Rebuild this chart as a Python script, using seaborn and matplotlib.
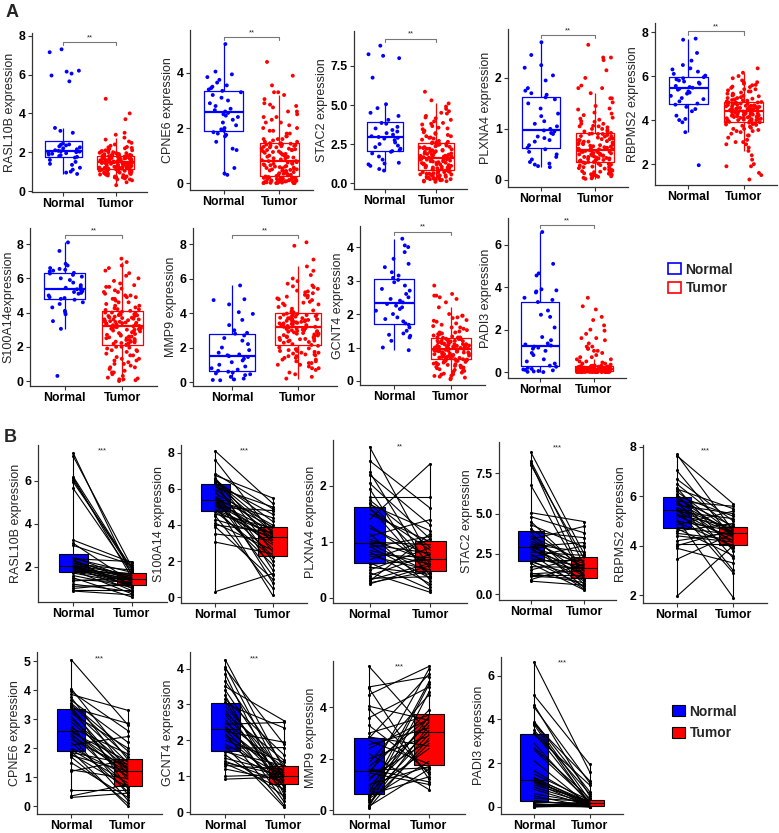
import matplotlib
matplotlib.use("Agg")
import matplotlib.pyplot as plt
from matplotlib.patches import Patch
from matplotlib.ticker import FormatStrFormatter
import seaborn as sns
import pandas as pd

# values estimated from the published figure
# normal samples (paired, also shown in panel A), paired tumour samples, other tumour samples
rasl10b_normal = [7.3, 7.15, 6.2, 6.15, 6.05, 5.95, 5.65, 3.25, 3.1, 3.0, 2.45, 2.4, 2.38, 2.35, 2.3, 2.25, 2.2, 2.15, 2.1, 2.07,
                  2.05, 2.03, 2.0, 1.98, 1.95, 1.92, 1.88, 1.85, 1.8, 1.76, 1.72, 1.6, 1.5, 1.4, 1.35, 1.2, 1.1, 1.0, 0.95, 0.88]
rasl10b_tumor = [1.6, 2.0, 1.9, 1.5, 1.8, 1.95, 1.7, 2.2, 1.3, 2.1, 1.45, 1.75, 2.25, 1.0, 1.4, 1.55, 1.2, 1.85, 1.1, 1.65,
                 1.35, 0.9, 1.5, 1.25, 1.6, 1.15, 1.45, 0.75, 1.7, 1.4, 1.2, 1.05, 0.6, 1.3, 1.5, 0.85, 1.15, 1.25, 0.95, 0.7]
rasl10b_tumor_other = [0.3, 0.45, 0.55, 0.6, 0.65, 0.7, 0.72, 0.75, 0.8, 0.82, 0.85, 0.88, 0.9, 0.92, 0.95, 0.97, 1.0, 1.02, 1.04, 1.05,
                       1.07, 1.08, 1.1, 1.11, 1.12, 1.14, 1.15, 1.17, 1.18, 1.2, 1.21, 1.23, 1.25, 1.26, 1.28, 1.3, 1.31, 1.33, 1.35, 1.36,
                       1.38, 1.4, 1.41, 1.42, 1.44, 1.45, 1.46, 1.47, 1.48, 1.49, 1.5, 1.52, 1.53, 1.55, 1.56, 1.58, 1.6, 1.61, 1.62, 1.64,
                       1.65, 1.67, 1.68, 1.7, 1.71, 1.72, 1.74, 1.75, 1.77, 1.78, 1.8, 1.81, 1.82, 1.83, 1.84, 1.86, 1.88, 1.9, 1.92, 1.95,
                       1.97, 2.0, 2.03, 2.06, 2.1, 2.14, 2.18, 2.22, 2.27, 2.33, 2.4, 2.48, 2.55, 2.65, 2.75, 2.9, 3.0, 3.7, 4.0, 4.75]

cpne6_normal = [5.05, 4.05, 3.95, 3.85, 3.75, 3.65, 3.55, 3.5, 3.45, 3.4, 3.35, 3.3, 3.2, 3.1, 3.0, 2.9, 2.8, 2.7, 2.65, 2.6,
                2.55, 2.5, 2.45, 2.4, 2.3, 2.2, 2.1, 2.0, 1.95, 1.9, 1.85, 1.8, 1.75, 1.7, 1.5, 1.25, 1.2, 0.55, 0.35, 0.3]
cpne6_tumor = [2.8, 1.6, 2.6, 3.3, 1.2, 2.2, 1.9, 1.7, 0.6, 2.85, 1.5, 1.1, 2.0, 0.9, 1.4, 1.3, 0.4, 1.8, 1.0, 1.25,
               1.55, 0.7, 1.15, 0.2, 1.35, 0.5, 2.4, 1.05, 0.8, 0.0, 1.45, 0.65, 1.2, 0.1, 0.3, 0.95, 1.6, 0.55, 0.75, 0.45]
cpne6_tumor_other = [0.0, 0.0, 0.0, 0.01, 0.01, 0.02, 0.02, 0.03, 0.03, 0.04, 0.05, 0.05, 0.06, 0.07, 0.08, 0.08, 0.09, 0.1, 0.1, 0.11,
                     0.12, 0.13, 0.14, 0.15, 0.15, 0.16, 0.17, 0.18, 0.19, 0.2, 0.22, 0.24, 0.26, 0.28, 0.3, 0.32, 0.34, 0.36, 0.38, 0.4,
                     0.42, 0.44, 0.46, 0.48, 0.5, 0.52, 0.54, 0.56, 0.58, 0.6, 0.62, 0.65, 0.68, 0.7, 0.73, 0.76, 0.8, 0.83, 0.86, 0.9,
                     0.93, 0.96, 1.0, 1.03, 1.06, 1.1, 1.13, 1.16, 1.2, 1.23, 1.26, 1.3, 1.32, 1.34, 1.36, 1.38, 1.4, 1.42, 1.43, 1.45,
                     1.5, 1.6, 1.7, 1.8, 1.9, 2.0, 2.1, 2.2, 2.3, 2.4, 2.5, 2.6, 2.75, 2.9, 3.05, 3.2, 3.3, 3.55, 3.9, 4.4]

stac2_normal = [8.8, 8.25, 8.15, 8.0, 6.75, 5.05, 4.8, 4.5, 4.3, 4.05, 3.85, 3.8, 3.6, 3.5, 3.4, 3.3, 3.2, 3.1, 3.0, 2.95,
                2.9, 2.85, 2.75, 2.6, 2.5, 2.4, 2.3, 2.2, 2.1, 2.05, 2.0, 1.9, 1.7, 1.5, 1.3, 1.25, 1.2, 1.1, 0.9, 0.8]
stac2_tumor = [2.5, 1.8, 0.9, 2.2, 1.0, 4.5, 3.8, 1.4, 2.9, 1.6, 3.5, 0.6, 2.0, 1.2, 4.2, 1.7, 0.4, 2.6, 1.1, 3.2,
               1.9, 0.8, 1.5, 2.4, 0.3, 1.3, 3.0, 1.75, 0.5, 2.1, 1.0, 0.25, 1.65, 2.3, 0.7, 1.45, 1.2, 0.95, 1.85, 0.55]
stac2_tumor_other = [0.08, 0.1, 0.12, 0.15, 0.18, 0.2, 0.22, 0.25, 0.28, 0.3, 0.33, 0.36, 0.4, 0.42, 0.45, 0.48, 0.5, 0.53, 0.56, 0.6,
                     0.63, 0.66, 0.7, 0.72, 0.75, 0.8, 0.83, 0.86, 0.9, 0.93, 0.97, 1.0, 1.04, 1.08, 1.12, 1.15, 1.2, 1.24, 1.28, 1.3,
                     1.34, 1.38, 1.4, 1.44, 1.47, 1.5, 1.53, 1.55, 1.57, 1.59, 1.62, 1.66, 1.7, 1.74, 1.78, 1.82, 1.86, 1.9, 1.95, 2.0,
                     2.04, 2.08, 2.12, 2.16, 2.2, 2.24, 2.28, 2.32, 2.36, 2.4, 2.45, 2.5, 2.55, 2.6, 2.64, 2.7, 2.78, 2.85, 2.92, 3.0,
                     3.08, 3.15, 3.25, 3.35, 3.45, 3.55, 3.65, 3.75, 3.85, 3.95, 4.05, 4.15, 4.3, 4.45, 4.6, 4.75, 4.9, 5.1, 5.3, 5.85]

plxna4_normal = [2.7, 2.45, 2.25, 2.2, 2.05, 1.95, 1.8, 1.75, 1.7, 1.67, 1.62, 1.58, 1.5, 1.4, 1.3, 1.25, 1.15, 1.1, 1.05, 1.0,
                 0.97, 0.95, 0.92, 0.9, 0.85, 0.82, 0.78, 0.75, 0.68, 0.63, 0.6, 0.55, 0.5, 0.45, 0.4, 0.35, 0.32, 0.3, 0.27, 0.25]
plxna4_tumor = [0.7, 1.6, 0.5, 1.3, 1.05, 0.3, 1.8, 0.9, 0.6, 1.2, 0.4, 0.85, 1.0, 2.4, 0.55, 0.75, 0.2, 1.4, 0.65, 0.95,
                0.45, 0.8, 0.35, 1.1, 0.6, 0.25, 0.72, 0.5, 1.05, 0.15, 0.68, 0.42, 0.9, 0.1, 0.78, 0.38, 0.62, 1.15, 0.48, 0.58]
plxna4_tumor_other = [0.02, 0.03, 0.04, 0.05, 0.06, 0.07, 0.08, 0.09, 0.1, 0.11, 0.12, 0.13, 0.14, 0.15, 0.16, 0.17, 0.18, 0.19, 0.2, 0.21,
                      0.22, 0.23, 0.25, 0.26, 0.28, 0.29, 0.31, 0.32, 0.33, 0.34, 0.35, 0.36, 0.37, 0.38, 0.39, 0.4, 0.41, 0.42, 0.43, 0.44,
                      0.45, 0.46, 0.47, 0.48, 0.49, 0.5, 0.51, 0.52, 0.53, 0.54, 0.55, 0.55, 0.56, 0.56, 0.57, 0.58, 0.6, 0.61, 0.63, 0.64,
                      0.66, 0.67, 0.69, 0.7, 0.72, 0.73, 0.75, 0.76, 0.78, 0.8, 0.81, 0.83, 0.85, 0.86, 0.88, 0.9, 0.91, 0.92, 0.95, 0.98,
                      1.0, 1.03, 1.06, 1.1, 1.14, 1.18, 1.22, 1.27, 1.32, 1.38, 1.45, 1.52, 1.6, 1.7, 1.8, 1.85, 2.0, 2.15, 2.35, 2.4, 2.65]

rbpms2_normal = [7.7, 7.65, 7.05, 6.7, 6.5, 6.35, 6.3, 6.2, 6.1, 6.02, 5.95, 5.9, 5.85, 5.8, 5.75, 5.7, 5.65, 5.55, 5.5, 5.47,
                 5.42, 5.38, 5.3, 5.25, 5.2, 5.1, 5.0, 4.95, 4.85, 4.75, 4.7, 4.6, 4.5, 4.4, 4.2, 4.05, 4.0, 3.9, 3.45, 1.95]
rbpms2_tumor = [4.6, 5.7, 4.3, 5.0, 4.7, 3.8, 5.5, 4.5, 3.5, 5.2, 4.4, 4.8, 3.0, 5.6, 4.55, 4.1, 5.3, 4.65, 2.9, 4.5,
                4.2, 5.1, 3.9, 4.75, 4.35, 1.9, 4.6, 4.0, 5.4, 4.45, 3.6, 4.9, 4.25, 4.15, 4.55, 4.05, 4.65, 3.3, 4.5, 4.0]
rbpms2_tumor_other = [1.3, 1.5, 1.6, 1.9, 2.0, 2.2, 2.4, 2.6, 2.75, 2.9, 3.0, 3.1, 3.2, 3.3, 3.38, 3.45, 3.5, 3.55, 3.6, 3.65,
                      3.7, 3.74, 3.78, 3.82, 3.85, 3.88, 3.9, 3.92, 3.94, 3.96, 3.98, 4.0, 4.02, 4.04, 4.06, 4.08, 4.1, 4.12, 4.14, 4.16,
                      4.18, 4.2, 4.22, 4.24, 4.26, 4.28, 4.3, 4.32, 4.34, 4.35, 4.37, 4.39, 4.41, 4.43, 4.45, 4.47, 4.49, 4.51, 4.53, 4.55,
                      4.57, 4.59, 4.61, 4.63, 4.65, 4.67, 4.69, 4.71, 4.73, 4.75, 4.77, 4.79, 4.8, 4.81, 4.82, 4.85, 4.88, 4.91, 4.94, 4.97,
                      5.0, 5.04, 5.08, 5.12, 5.16, 5.2, 5.25, 5.3, 5.35, 5.4, 5.46, 5.52, 5.58, 5.65, 5.72, 5.8, 5.9, 6.0, 6.15, 6.35]

s100a14_normal = [8.1, 7.6, 6.85, 6.75, 6.6, 6.55, 6.5, 6.45, 6.4, 6.32, 6.28, 6.2, 6.1, 6.0, 5.9, 5.75, 5.6, 5.5, 5.45, 5.4,
                  5.36, 5.3, 5.25, 5.2, 5.15, 5.1, 5.0, 4.9, 4.85, 4.8, 4.75, 4.6, 4.5, 4.3, 4.1, 4.0, 3.9, 3.5, 3.05, 0.3]
s100a14_tumor = [5.2, 3.5, 4.9, 5.5, 3.0, 2.5, 4.2, 3.8, 1.5, 4.6, 3.6, 2.0, 5.0, 3.4, 0.8, 4.0, 2.7, 3.9, 1.2, 3.3,
                 4.4, 2.3, 3.7, 0.1, 3.45, 2.9, 4.8, 1.8, 3.5, 3.2, 2.2, 3.85, 0.5, 3.35, 2.6, 3.6, 1.0, 3.15, 2.4, 1.3]
s100a14_tumor_other = [0.0, 0.05, 0.1, 0.15, 0.2, 0.3, 0.4, 0.5, 0.6, 0.7, 0.8, 0.9, 1.0, 1.1, 1.2, 1.3, 1.4, 1.5, 1.6, 1.7,
                       1.75, 1.8, 1.9, 1.95, 2.0, 2.1, 2.14, 2.18, 2.22, 2.26, 2.3, 2.35, 2.4, 2.45, 2.5, 2.55, 2.6, 2.65, 2.7, 2.75,
                       2.8, 2.85, 2.9, 2.95, 3.0, 3.03, 3.06, 3.09, 3.12, 3.14, 3.18, 3.22, 3.26, 3.3, 3.34, 3.38, 3.42, 3.46, 3.5, 3.55,
                       3.6, 3.64, 3.68, 3.72, 3.76, 3.8, 3.84, 3.88, 3.92, 3.96, 4.0, 4.05, 4.1, 4.15, 4.19, 4.25, 4.3, 4.4, 4.5, 4.6,
                       4.7, 4.8, 4.9, 5.0, 5.1, 5.2, 5.3, 5.4, 5.5, 5.6, 5.7, 5.85, 6.0, 6.15, 6.3, 6.45, 6.6, 6.75, 6.95, 7.15]

mmp9_normal = [5.6, 4.8, 4.75, 4.5, 4.05, 3.95, 3.6, 3.3, 3.0, 2.85, 2.8, 2.7, 2.55, 2.4, 2.2, 2.0, 1.85, 1.7, 1.6, 1.55,
               1.5, 1.45, 1.35, 1.25, 1.15, 1.0, 0.9, 0.8, 0.72, 0.65, 0.6, 0.55, 0.5, 0.45, 0.4, 0.3, 0.2, 0.15, 0.12, 0.1]
mmp9_tumor = [3.0, 5.2, 1.2, 5.6, 3.5, 1.4, 4.8, 1.5, 3.7, 2.5, 5.3, 1.8, 3.2, 3.55, 0.8, 2.9, 4.5, 3.6, 1.1, 1.65,
              3.9, 1.0, 5.5, 2.7, 3.4, 1.7, 3.45, 3.1, 2.4, 5.0, 1.3, 3.65, 2.95, 1.9, 4.9, 2.6, 3.3, 1.6, 4.6, 2.8]
mmp9_tumor_other = [0.2, 0.3, 0.45, 0.55, 0.7, 0.8, 0.9, 1.0, 1.1, 1.2, 1.3, 1.4, 1.5, 1.55, 1.6, 1.7, 1.75, 1.8, 1.85, 1.9,
                    1.95, 2.0, 2.1, 2.15, 2.2, 2.28, 2.32, 2.36, 2.4, 2.44, 2.48, 2.52, 2.56, 2.6, 2.64, 2.68, 2.72, 2.76, 2.8, 2.84,
                    2.88, 2.92, 2.96, 3.0, 3.04, 3.08, 3.12, 3.16, 3.2, 3.25, 3.3, 3.34, 3.37, 3.4, 3.43, 3.46, 3.49, 3.52, 3.55, 3.58,
                    3.61, 3.64, 3.67, 3.7, 3.73, 3.76, 3.79, 3.82, 3.85, 3.88, 3.91, 3.94, 3.97, 4.0, 4.03, 4.06, 4.09, 4.15, 4.25, 4.35,
                    4.45, 4.55, 4.65, 4.75, 4.85, 4.95, 5.05, 5.15, 5.25, 5.4, 5.55, 5.7, 5.85, 6.0, 6.2, 6.45, 6.7, 7.1, 7.9, 8.1]

gcnt4_normal = [4.25, 4.05, 4.0, 3.85, 3.65, 3.5, 3.4, 3.25, 3.15, 3.08, 3.02, 2.95, 2.85, 2.75, 2.7, 2.6, 2.5, 2.45, 2.4, 2.35,
                2.3, 2.25, 2.2, 2.15, 2.1, 2.0, 1.9, 1.85, 1.78, 1.72, 1.68, 1.6, 1.5, 1.42, 1.38, 1.35, 1.3, 1.2, 1.0, 0.92]
gcnt4_tumor = [1.2, 0.9, 1.9, 0.5, 1.3, 2.55, 1.0, 0.4, 1.6, 0.8, 2.35, 1.1, 0.7, 1.45, 0.95, 0.3, 1.25, 2.5, 0.85, 1.05,
               0.6, 1.95, 0.2, 1.15, 0.75, 1.4, 1.0, 0.15, 1.8, 0.9, 1.3, 0.45, 1.1, 0.82, 1.02, 0.65, 1.2, 0.88, 1.05, 0.98]
gcnt4_tumor_other = [0.05, 0.08, 0.1, 0.13, 0.16, 0.19, 0.22, 0.25, 0.28, 0.3, 0.33, 0.35, 0.38, 0.4, 0.42, 0.44, 0.46, 0.48, 0.5, 0.52,
                     0.54, 0.55, 0.57, 0.58, 0.6, 0.61, 0.62, 0.64, 0.65, 0.66, 0.68, 0.69, 0.7, 0.72, 0.73, 0.74, 0.76, 0.77, 0.78, 0.8,
                     0.81, 0.82, 0.84, 0.85, 0.86, 0.88, 0.89, 0.9, 0.91, 0.92, 0.93, 0.94, 0.95, 0.97, 0.98, 0.99, 1.0, 1.02, 1.03, 1.05,
                     1.06, 1.08, 1.09, 1.1, 1.12, 1.13, 1.15, 1.16, 1.18, 1.19, 1.2, 1.22, 1.23, 1.25, 1.26, 1.28, 1.29, 1.3, 1.33, 1.36,
                     1.39, 1.42, 1.45, 1.48, 1.52, 1.56, 1.6, 1.64, 1.68, 1.72, 1.77, 1.82, 1.88, 1.95, 2.0, 2.2, 2.45, 2.55, 2.6, 2.85]

padi3_normal = [6.6, 5.1, 4.65, 4.55, 3.9, 3.85, 3.8, 3.75, 3.5, 3.4, 3.3, 2.9, 2.7, 2.6, 2.1, 1.65, 1.5, 1.35, 1.3, 1.25,
                1.2, 1.15, 1.1, 1.0, 0.9, 0.8, 0.6, 0.5, 0.4, 0.3, 0.25, 0.2, 0.15, 0.12, 0.1, 0.08, 0.05, 0.03, 0.01, 0.0]
padi3_tumor = [1.6, 1.95, 0.5, 1.1, 0.7, 0.3, 1.2, 0.1, 0.6, 0.2, 1.0, 0.15, 0.4, 0.25, 0.05, 0.18, 0.3, 0.12, 0.22, 0.08,
               0.1, 0.2, 0.02, 0.28, 0.15, 0.05, 0.17, 0.0, 0.25, 0.03, 0.1, 0.19, 0.0, 0.07, 0.14, 0.02, 0.04, 0.01, 0.2, 0.06]
padi3_tumor_other = [0.0, 0.0, 0.0, 0.0, 0.0, 0.0, 0.0, 0.0, 0.0, 0.0, 0.005, 0.005, 0.01, 0.01, 0.01, 0.01, 0.015, 0.015, 0.02, 0.02,
                     0.02, 0.02, 0.025, 0.025, 0.025, 0.03, 0.03, 0.035, 0.04, 0.04, 0.045, 0.05, 0.05, 0.055, 0.06, 0.06, 0.065, 0.07, 0.07, 0.075,
                     0.08, 0.08, 0.085, 0.09, 0.09, 0.095, 0.1, 0.1, 0.105, 0.11, 0.11, 0.115, 0.12, 0.13, 0.13, 0.14, 0.15, 0.15, 0.16, 0.17,
                     0.17, 0.18, 0.19, 0.2, 0.2, 0.21, 0.22, 0.22, 0.23, 0.24, 0.24, 0.25, 0.26, 0.26, 0.27, 0.28, 0.29, 0.3, 0.35, 0.4,
                     0.45, 0.5, 0.6, 0.7, 0.8, 0.9, 1.0, 1.1, 1.2, 1.35, 1.5, 1.6, 1.8, 2.0, 2.2, 2.45, 2.6, 2.95, 3.1, 3.5]

groups = ["Normal", "Tumor"]
colors = {"Normal": "#0000FF", "Tumor": "#FF0000"}

genes = {
    "RASL10B": (rasl10b_normal, rasl10b_tumor, rasl10b_tumor_other),
    "CPNE6": (cpne6_normal, cpne6_tumor, cpne6_tumor_other),
    "STAC2": (stac2_normal, stac2_tumor, stac2_tumor_other),
    "PLXNA4": (plxna4_normal, plxna4_tumor, plxna4_tumor_other),
    "RBPMS2": (rbpms2_normal, rbpms2_tumor, rbpms2_tumor_other),
    "S100A14": (s100a14_normal, s100a14_tumor, s100a14_tumor_other),
    "MMP9": (mmp9_normal, mmp9_tumor, mmp9_tumor_other),
    "GCNT4": (gcnt4_normal, gcnt4_tumor, gcnt4_tumor_other),
    "PADI3": (padi3_normal, padi3_tumor, padi3_tumor_other),
}

# layout: gene, y label, (left, right, top, bottom) in pixels, ylim, yticks
panel_a = [
    ("RASL10B", "RASL10B expression", (32, 147, 33, 192), (-0.05, 8.14), [0, 2, 4, 6, 8]),
    ("CPNE6", "CPNE6 expression", (190, 313, 30, 190), (-0.25, 5.56), [0, 2, 4]),
    ("STAC2", "STAC2 expression", (354, 467, 31, 189), (-0.38, 9.74), [0, 2.5, 5, 7.5]),
    ("PLXNA4", "PLXNA4 expression", (508, 628, 29, 187), (-0.14, 2.96), [0, 1, 2]),
    ("RBPMS2", "RBPMS2 expression", (655, 777, 23, 185), (1.05, 8.41), [2, 4, 6, 8]),
    ("S100A14", "S100A14expression", (30, 157, 228, 386), (-0.29, 8.94), [0, 2, 4, 6, 8]),
    ("MMP9", "MMP9 expression", (193, 337, 228, 386), (-0.23, 8.93), [0, 2, 4, 6, 8]),
    ("GCNT4", "GCNT4 expression", (360, 485, 226, 385), (-0.12, 4.63), [0, 1, 2, 3, 4]),
    ("PADI3", "PADI3 expression", (508, 626, 218, 378), (-0.28, 7.26), [0, 2, 4, 6]),
]
panel_b = [
    ("RASL10B", "RASL10B expression", (38, 167, 445, 602), (0.37, 7.67), [2, 4, 6], "***"),
    ("S100A14", "S100A14 expression", (181, 307, 445, 603), (-0.33, 8.44), [0, 2, 4, 6, 8], "***"),
    ("PLXNA4", "PLXNA4 expression", (333, 467, 440, 603), (-0.09, 2.82), [0, 1, 2], "**"),
    ("STAC2", "STAC2 expression", (499, 616, 442, 600), (-0.37, 9.44), [0, 2.5, 5, 7.5], "***"),
    ("RBPMS2", "RBPMS2 expression", (643, 767, 445, 603), (1.68, 8.08), [2, 4, 6, 8], "***"),
    ("CPNE6", "CPNE6 expression", (37, 162, 652, 814), (-0.27, 5.31), [0, 1, 2, 3, 4, 5], "***"),
    ("GCNT4", "GCNT4 expression", (190, 319, 652, 814), (-0.05, 4.46), [0, 1, 2, 3, 4], "***"),
    ("MMP9", "MMP9 expression", (333, 465, 661, 814), (-0.15, 5.81), [0, 2, 4], "***"),
    ("PADI3", "PADI3 expression", (501, 623, 657, 814), (-0.32, 6.85), [0, 2, 4, 6], "***"),
]

W, H = 779, 833
sns.set_style("ticks")
plt.rcParams["font.family"] = ["Liberation Sans", "DejaVu Sans"]
plt.rcParams["axes.linewidth"] = 0.9

fig = plt.figure(figsize=(W / 100, H / 100), dpi=100)


def add_axes(rect):
    l, r, t, b = rect
    return fig.add_axes([l / W, 1 - b / H, (r - l) / W, (b - t) / H])


def style_axis(ax, ylabel, ylim, yticks):
    ax.set_xlim(-0.6, 1.6)
    ax.set_ylim(*ylim)
    ax.set_xticks([0, 1])
    ax.set_xticklabels(groups, fontsize=8.8, fontweight="bold")
    ax.set_yticks(yticks)
    if any(isinstance(v, float) for v in yticks):
        ax.yaxis.set_major_formatter(FormatStrFormatter("%.1f"))
    for lab in ax.get_yticklabels():
        lab.set_fontsize(8.8)
        lab.set_fontweight("bold")
    ax.set_xlabel("")
    ax.set_ylabel(ylabel, fontsize=9, labelpad=2)
    ax.tick_params(length=3, width=0.8, pad=1.5, colors="#333333", labelcolor="black")
    sns.despine(ax=ax)
    for s in ("left", "bottom"):
        ax.spines[s].set_color("#333333")


# ---------------- panel A ----------------
for gene, ylabel, rect, ylim, yticks in panel_a:
    normal, tumor, tumor_other = genes[gene]
    tumor_all = tumor + tumor_other
    df = pd.DataFrame({"group": ["Normal"] * len(normal) + ["Tumor"] * len(tumor_all),
                       "value": normal + tumor_all})
    ax = add_axes(rect)
    sns.stripplot(data=df, x="group", y="value", hue="group", order=groups, palette=colors,
                  jitter=0.32, size=2.8, linewidth=0, ax=ax, legend=False, zorder=1)
    sns.boxplot(data=df, x="group", y="value", hue="group", order=groups, palette=colors,
                fill=False, width=0.7, showfliers=False, showcaps=False, linewidth=0.9,
                medianprops={"linewidth": 1.6}, ax=ax, legend=False)
    top = df["value"].max()
    span = ylim[1] - ylim[0]
    yb = top + 0.045 * span
    ax.plot([0, 0, 1, 1], [yb - 0.02 * span, yb, yb, yb - 0.02 * span], color="#777777", lw=0.8)
    ax.text(0.5, yb + 0.005 * span, "**", ha="center", va="bottom", fontsize=5.5)
    style_axis(ax, ylabel, ylim, yticks)

# ---------------- panel B ----------------
for gene, ylabel, rect, ylim, yticks, sig in panel_b:
    normal, tumor, _ = genes[gene]
    n = len(normal)
    df = pd.DataFrame({"pair": list(range(n)) * 2,
                       "group": ["Normal"] * n + ["Tumor"] * n,
                       "value": normal + tumor})
    df["pos"] = df["group"].map({"Normal": 0, "Tumor": 1})
    ax = add_axes(rect)
    sns.boxplot(data=df, x="group", y="value", hue="group", order=groups, palette=colors,
                width=0.5, whis=(0, 100), showfliers=False, showcaps=False,
                linecolor="black", linewidth=0.8, saturation=1, ax=ax, legend=False)
    sns.lineplot(data=df, x="pos", y="value", units="pair", estimator=None, sort=False,
                 color="black", linewidth=0.8, ax=ax, legend=False)
    sns.scatterplot(data=df, x="pos", y="value", color="black", s=5, linewidth=0, ax=ax, legend=False)
    ax.text(0.5, 0.96, sig, transform=ax.get_xaxis_transform(), ha="center", va="center", fontsize=5.5)
    style_axis(ax, ylabel, ylim, yticks)

# legends
leg_a = [Patch(facecolor="white", edgecolor=colors[g], linewidth=1.2, label=g) for g in groups]
fig.legend(handles=leg_a, loc="upper left", bbox_to_anchor=(655 / W, 1 - 250 / H), frameon=False,
           prop={"weight": "bold", "size": 10}, handlelength=1.0, handleheight=0.8, handletextpad=0.3,
           labelspacing=0.35)
leg_b = [Patch(facecolor=colors[g], edgecolor="black", linewidth=0.8, label=g) for g in groups]
fig.legend(handles=leg_b, loc="upper left", bbox_to_anchor=(659 / W, 1 - 692 / H), frameon=False,
           prop={"weight": "bold", "size": 10}, handlelength=1.0, handleheight=0.8, handletextpad=0.3,
           labelspacing=0.55)

fig.text(6 / W, 1 - 4 / H, "A", fontsize=13, fontweight="bold", va="top", ha="left")
fig.text(4 / W, 1 - 429 / H, "B", fontsize=13, fontweight="bold", va="top", ha="left")

fig.savefig("out.png", dpi=100)
